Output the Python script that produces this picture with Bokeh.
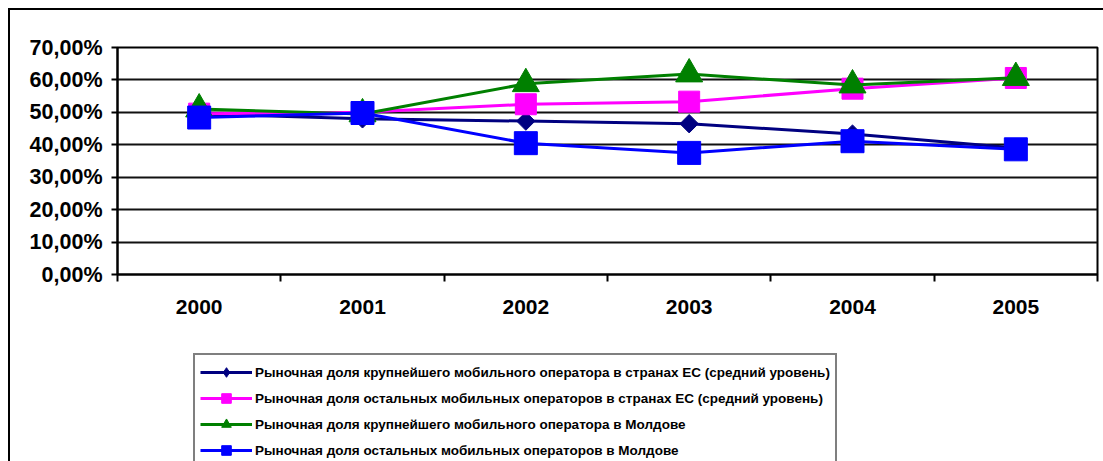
from bokeh.plotting import figure
from bokeh.models import Range1d, FixedTicker, Legend, LegendItem
from bokeh.layouts import column
from bokeh.embed import file_html
from bokeh.resources import INLINE
import math

years = ["2000", "2001", "2002", "2003", "2004", "2005"]
eu_largest = [49.5, 48.0, 47.3, 46.5, 43.3, 39.0]
eu_others = [49.6, 50.0, 52.5, 53.3, 57.3, 60.6]
md_largest = [51.0, 49.5, 58.8, 61.8, 58.4, 60.7]
md_others = [48.4, 49.8, 40.5, 37.5, 41.1, 38.6]

labels = [
    "Рыночная доля крупнейшего мобильного оператора в странах ЕС (средний уровень)",
    "Рыночная доля остальных мобильных операторов в странах ЕС (средний уровень)",
    "Рыночная доля крупнейшего мобильного оператора в Молдове",
    "Рыночная доля остальных мобильных операторов в Молдове",
]
y_ticks = [0, 10, 20, 30, 40, 50, 60, 70]

FONT = "Liberation Sans"

xs = [i + 0.5 for i in range(len(years))]

# ---------------- chart ----------------
p = figure(width=1093, height=335, output_backend="svg", toolbar_location=None,
           x_range=Range1d(0, len(years)), y_range=Range1d(0, 70),
           min_border_left=107, min_border_top=37, min_border_right=6,
           min_border_bottom=71)
p.background_fill_color = "white"
p.border_fill_color = "white"
p.outline_line_color = "black"
p.outline_line_width = 2

p.yaxis.ticker = FixedTicker(ticks=y_ticks)
p.yaxis.major_label_overrides = {t: f"{t},00%" for t in y_ticks}
p.yaxis.axis_line_color = "black"
p.yaxis.axis_line_width = 2
p.yaxis.major_tick_line_width = 2
p.yaxis.major_tick_in = 0
p.yaxis.major_tick_out = 6
p.yaxis.minor_tick_line_color = None
p.yaxis.major_label_standoff = 9
p.yaxis.major_label_text_font = FONT
p.yaxis.major_label_text_font_style = "bold"
p.yaxis.major_label_text_font_size = "21.5px"
p.yaxis.major_label_text_color = "black"

p.xaxis.ticker = FixedTicker(ticks=xs, minor_ticks=list(range(len(years) + 1)))
p.xaxis.major_label_overrides = {x: y for x, y in zip(xs, years)}
p.xaxis.axis_line_color = "black"
p.xaxis.axis_line_width = 2
p.xaxis.major_tick_line_color = None
p.xaxis.major_tick_in = 0
p.xaxis.major_tick_out = 0
p.xaxis.minor_tick_line_color = "black"
p.xaxis.minor_tick_line_width = 2
p.xaxis.minor_tick_in = 0
p.xaxis.minor_tick_out = 7
p.xaxis.major_label_standoff = 18
p.xaxis.major_label_text_font = FONT
p.xaxis.major_label_text_font_style = "bold"
p.xaxis.major_label_text_font_size = "21px"
p.xaxis.major_label_text_color = "black"

p.xgrid.grid_line_color = None
p.ygrid.grid_line_color = "#111111"
p.ygrid.grid_line_width = 2

series = [eu_largest, eu_others, md_largest, md_others]
colors = ["#000080", "#FF00FF", "#008000", "#0000FF"]
markers = ["square", "square", "triangle", "square"]
sizes = [13, 21, 27, 23]
angles = [math.pi / 4, 0, 0, 0]
legend_markers = ["diamond", "square", "triangle", "square"]

for vals, color, marker, size, ang in zip(series, colors, markers, sizes, angles):
    p.line(xs, vals, line_color=color, line_width=3)
    p.scatter(xs, vals, marker=marker, size=size, angle=ang,
              fill_color=color, line_color=color, line_width=1)

# ---------------- legend strip ----------------
lg = figure(width=1093, height=116, output_backend="svg", toolbar_location=None,
            x_range=Range1d(0, 1), y_range=Range1d(0, 1),
            x_axis_location=None, y_axis_location=None,
            min_border_left=0, min_border_right=0,
            min_border_top=0, min_border_bottom=0)
lg.outline_line_color = None
lg.xgrid.grid_line_color = None
lg.ygrid.grid_line_color = None
lg.background_fill_color = "white"
lg.border_fill_color = "white"

items = []
for vals, color, lm, lab in zip(series, colors, legend_markers, labels):
    # proxies: same data, outside this strip's visible range -> only the key shows
    l = lg.line(xs, vals, line_color=color, line_width=3)
    m = lg.scatter(xs, vals, marker=lm, size=10, fill_color=color, line_color=color)
    items.append(LegendItem(label=lab, renderers=[l, m]))

legend = Legend(items=items, location=(76, -8))
legend.border_line_color = "black"
legend.border_line_width = 2
legend.background_fill_color = "white"
legend.background_fill_alpha = 1
legend.padding = 5
legend.spacing = 2
legend.glyph_width = 52
legend.glyph_height = 24
legend.label_height = 24
legend.label_standoff = 3
legend.label_text_font = FONT
legend.label_text_font_style = "bold"
legend.label_text_font_size = "13.5px"
legend.label_text_color = "black"
legend.margin = 0
lg.add_layout(legend)

layout = column(p, lg, spacing=0,
                styles={"margin-left": "8px", "margin-top": "8px",
                        "border-left": "2px solid black",
                        "border-top": "2px solid black"})

open("out.html", "w").write(file_html(layout, INLINE))
